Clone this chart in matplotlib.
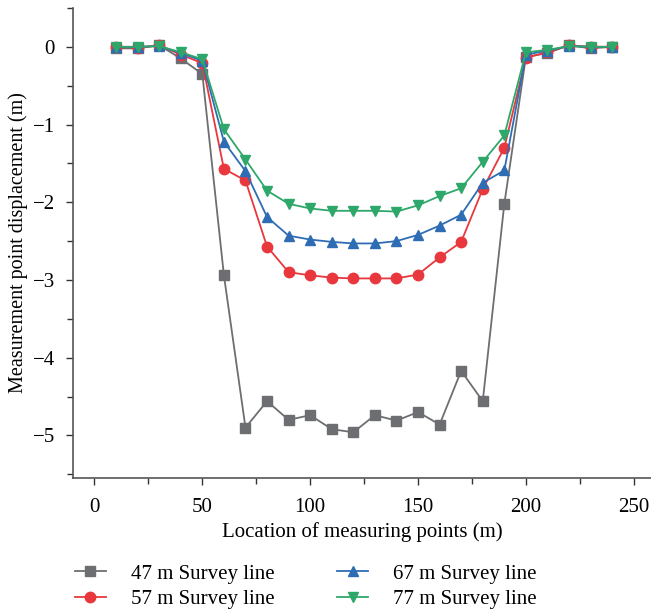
import matplotlib.pyplot as plt
from matplotlib.ticker import MultipleLocator

plt.rcParams['font.family'] = ['Liberation Serif', 'DejaVu Serif']
plt.rcParams['font.size'] = 15

# measuring point locations (m)
x = list(range(10, 250, 10))

# displacement (m) per survey line
line_47 = [-0.02, -0.02, 0.02, -0.15, -0.35, -2.94, -4.90, -4.56, -4.80, -4.74, -4.92, -4.96,
           -4.74, -4.81, -4.70, -4.86, -4.17, -4.56, -2.02, -0.13, -0.08, 0.02, -0.02, 0.0]
line_57 = [0.0, -0.01, 0.02, -0.10, -0.21, -1.57, -1.72, -2.57, -2.90, -2.94, -2.97, -2.98,
           -2.98, -2.98, -2.93, -2.71, -2.51, -1.83, -1.30, -0.14, -0.07, 0.02, 0.0, 0.0]
line_67 = [0.0, 0.0, 0.01, -0.08, -0.18, -1.22, -1.60, -2.19, -2.43, -2.48, -2.51, -2.53,
           -2.53, -2.50, -2.42, -2.30, -2.16, -1.75, -1.59, -0.10, -0.05, 0.01, 0.0, 0.0]
line_77 = [0.0, 0.0, 0.01, -0.07, -0.16, -1.06, -1.45, -1.85, -2.02, -2.08, -2.11, -2.11,
           -2.11, -2.12, -2.04, -1.92, -1.82, -1.48, -1.14, -0.07, -0.04, 0.01, 0.0, 0.0]

fig = plt.figure(figsize=(6.51, 6.13), dpi=100)
ax = fig.add_axes([0.112, 0.22, 0.888, 0.767])

ax.plot(x, line_47, color='#6d6e71', marker='s', ms=6.5, lw=1.3, label='47 m Survey line')
ax.plot(x, line_57, color='#e8383d', marker='o', ms=7.5, lw=1.3, label='57 m Survey line')
ax.plot(x, line_67, color='#2e6db4', marker='^', ms=7.5, lw=1.3, label='67 m Survey line')
ax.plot(x, line_77, color='#2ea86a', marker='v', ms=7.5, lw=1.3, label='77 m Survey line')

ax.set_xlim(-10, 258)
ax.set_ylim(-5.55, 0.5)
ax.xaxis.set_major_locator(MultipleLocator(50))
ax.xaxis.set_minor_locator(MultipleLocator(25))
ax.yaxis.set_major_locator(MultipleLocator(1))
ax.yaxis.set_minor_locator(MultipleLocator(0.5))
ax.tick_params(which='both', direction='out', color='#333333', width=1)
ax.tick_params(which='major', length=5)
ax.tick_params(which='minor', length=4)
ax.tick_params(axis='x', which='major', pad=9)
ax.tick_params(axis='y', which='major', pad=8)
for s in ['top', 'right']:
    ax.spines[s].set_visible(False)
for s in ['left', 'bottom']:
    ax.spines[s].set_color('#555555')
    ax.spines[s].set_linewidth(1.2)

ax.set_xlabel('Location of measuring points (m)', labelpad=4)
ax.set_ylabel('Measurement point displacement (m)', labelpad=3, fontsize=14.5)

fig.legend(loc='upper left', bbox_to_anchor=(0.115, 0.08), ncol=2, frameon=False,
           columnspacing=3.0, handlelength=1.5, handletextpad=1.2, labelspacing=0.3,
           borderaxespad=0, borderpad=0)

fig.savefig('out.png', dpi=100)
